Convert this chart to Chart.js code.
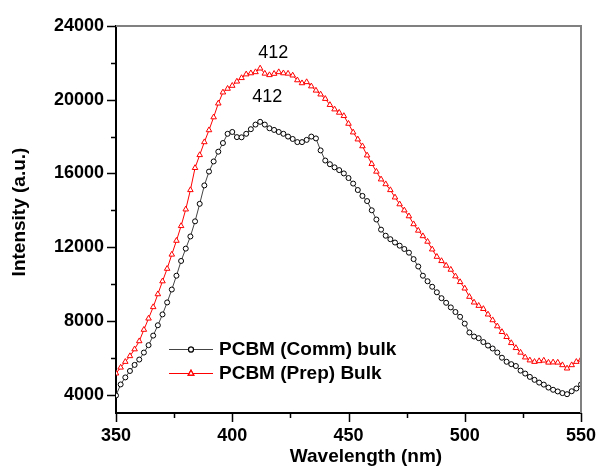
<!DOCTYPE html>
<html>
<head>
<meta charset="utf-8">
<script src="https://cdn.jsdelivr.net/npm/chart.js@4.4.1/dist/chart.umd.min.js"></script>
<style>
  body { margin: 0; background: #fff; }
  #wrap { width: 600px; height: 466px; }
</style>
</head>
<body>
<div id="wrap"><canvas id="plChart" width="600" height="466"></canvas></div>
<script>
// wavelength (nm)
const wavelengths = [
  350, 352, 354, 356, 358, 360, 362, 364, 366, 368,
  370, 372, 374, 376, 378, 380, 382, 384, 386, 388,
  390, 392, 394, 396, 398, 400, 402, 404, 406, 408,
  410, 412, 414, 416, 418, 420, 422, 424, 426, 428,
  430, 432, 434, 436, 438, 440, 442, 444, 446, 448,
  450, 452, 454, 456, 458, 460, 462, 464, 466, 468,
  470, 472, 474, 476, 478, 480, 482, 484, 486, 488,
  490, 492, 494, 496, 498, 500, 502, 504, 506, 508,
  510, 512, 514, 516, 518, 520, 522, 524, 526, 528,
  530, 532, 534, 536, 538, 540, 542, 544, 546, 548,
  550
];

// PCBM (Comm) bulk
const commBulk = [
  3950, 4550, 4930, 5280, 5610, 5900, 6280, 6680, 7200, 7760,
  8350, 9000, 9700, 10450, 11250, 11920, 12580, 13400, 14350, 15350,
  16100, 16650, 17180, 17650, 18150, 18250, 17970, 17960, 18150, 18400,
  18650, 18800, 18650, 18450, 18360, 18250, 18150, 18000, 17870, 17700,
  17700, 17820, 18000, 17900, 17250, 16700, 16500, 16330, 16180, 16000,
  15750, 15450, 15100, 14780, 14500, 14000, 13500, 12950, 12620, 12430,
  12250, 12080, 11900, 11700, 11350, 10950, 10450, 10150, 9850, 9550,
  9230, 8980, 8730, 8480, 8220, 7850, 7370, 7150, 7060, 6850,
  6660, 6500, 6280, 6000, 5780, 5650, 5550, 5300, 5140, 4960,
  4800, 4650, 4540, 4380, 4260, 4170, 4080, 4020, 4180, 4330,
  4550
];

// PCBM (Prep) Bulk
const prepBulk = [
  5150, 5470, 5780, 6090, 6460, 6900, 7520, 8130, 8750, 9450,
  10150, 10830, 11600, 12350, 13150, 14050, 15100, 16300, 17000, 17700,
  18350, 19050, 19800, 20400, 20600, 20760, 20990, 21180, 21380, 21440,
  21500, 21700, 21420, 21340, 21410, 21500, 21440, 21420, 21320, 21060,
  20900, 20960, 20730, 20500, 20290, 20050, 19720, 19480, 19300, 19120,
  18700, 18230, 17850, 17480, 16980, 16520, 16100, 15680, 15420, 15100,
  14700, 14330, 14000, 13680, 13250, 12900, 12600, 12300, 11880, 11480,
  11250, 11000, 10780, 10420, 10110, 9760, 9310, 9000, 8820, 8650,
  8350, 8040, 7710, 7400, 7130, 6800, 6530, 6280, 6020, 5860,
  5780, 5820, 5850, 5740, 5750, 5740, 5600, 5420, 5600, 5780,
  5900
];

const seriesNames = ['PCBM (Comm) bulk', 'PCBM (Prep) Bulk'];
const peakLabels = ['412', '412'];
const peakWavelength = 412;

const xTicks = [350, 375, 400, 425, 450, 475, 500, 525, 550];
const xLabelTicks = [350, 400, 450, 500, 550];
const yTicks = [4000, 6000, 8000, 10000, 12000, 14000, 16000, 18000, 20000, 22000, 24000];
const yLabelTicks = [4000, 8000, 12000, 16000, 20000, 24000];

const FONT = '"Liberation Sans", Arial, Helvetica, sans-serif';

const decor = {
  id: 'decor',
  afterDraw(chart) {
    const { ctx, chartArea: a, scales: { x, y } } = chart;
    ctx.save();

    // grey top/right frame
    ctx.strokeStyle = '#808080';
    ctx.lineWidth = 2;
    ctx.beginPath();
    ctx.moveTo(a.left, a.top);
    ctx.lineTo(a.right, a.top);
    ctx.lineTo(a.right, a.bottom);
    ctx.stroke();

    // tick marks (major + minor)
    ctx.strokeStyle = '#000';
    ctx.lineWidth = 1.5;
    ctx.beginPath();
    xTicks.forEach(v => {
      const px = Math.round(x.getPixelForValue(v)) + 0.5;
      const len = xLabelTicks.includes(v) ? 9 : 5;
      ctx.moveTo(px, a.bottom);
      ctx.lineTo(px, a.bottom + len);
    });
    yTicks.forEach(v => {
      const py = Math.round(y.getPixelForValue(v)) + 0.5;
      const len = yLabelTicks.includes(v) ? 9 : 5;
      ctx.moveTo(a.left, py);
      ctx.lineTo(a.left - len, py);
    });
    ctx.stroke();

    // peak labels
    ctx.fillStyle = '#000';
    ctx.font = '18px ' + FONT;
    ctx.textAlign = 'center';
    ctx.textBaseline = 'middle';
    const i = wavelengths.indexOf(peakWavelength);
    const px = x.getPixelForValue(peakWavelength);
    ctx.fillText(peakLabels[1], px + 13, y.getPixelForValue(prepBulk[i]) - 15);
    ctx.fillText(peakLabels[0], px + 7, y.getPixelForValue(commBulk[i]) - 25);

    // axis titles
    ctx.font = 'bold 19px ' + FONT;
    ctx.fillText('Wavelength (nm)', 366, 457);
    ctx.save();
    ctx.translate(20, 212);
    ctx.rotate(-Math.PI / 2);
    ctx.fillText('Intensity (a.u.)', 0, 0);
    ctx.restore();

    // legend
    const rows = [
      { ds: chart.data.datasets[0], y: 349 },
      { ds: chart.data.datasets[1], y: 373 }
    ];
    rows.forEach(r => {
      ctx.strokeStyle = r.ds.borderColor;
      ctx.lineWidth = 1.2;
      ctx.beginPath();
      ctx.moveTo(169, r.y + 0.5);
      ctx.lineTo(213, r.y + 0.5);
      ctx.stroke();
      Chart.helpers.drawPoint(ctx, {
        pointStyle: r.ds.pointStyle,
        radius: r.ds.pointRadius,
        borderWidth: 1
      }, 191, r.y + 0.5);
      ctx.fillStyle = r.ds.pointBackgroundColor;
      ctx.strokeStyle = r.ds.pointBorderColor;
      ctx.fill();
      ctx.stroke();
      ctx.fillStyle = '#000';
      ctx.textAlign = 'left';
      ctx.font = 'bold 19px ' + FONT;
      ctx.fillText(r.ds.label, 219, r.y + 1);
    });

    ctx.restore();
  }
};

const chart = new Chart(document.getElementById('plChart').getContext('2d'), {
  type: 'line',
  data: {
    labels: wavelengths,
    datasets: [
      {
        label: seriesNames[0],
        data: wavelengths.map((w, i) => ({ x: w, y: commBulk[i] })),
        borderColor: '#444',
        borderWidth: 1,
        pointStyle: 'circle',
        pointRadius: 2.5,
        pointBorderWidth: 1,
        pointBorderColor: '#000',
        pointBackgroundColor: '#fff',
        tension: 0
      },
      {
        label: seriesNames[1],
        data: wavelengths.map((w, i) => ({ x: w, y: prepBulk[i] })),
        borderColor: '#ff0000',
        borderWidth: 1,
        pointStyle: 'triangle',
        pointRadius: 3.2,
        pointBorderWidth: 1,
        pointBorderColor: '#ff0000',
        pointBackgroundColor: '#fff',
        tension: 0
      }
    ]
  },
  options: {
    responsive: false,
    animation: false,
    layout: { padding: { top: 26, right: 19, left: 0, bottom: 0 } },
    plugins: {
      legend: { display: false },
      tooltip: { enabled: false }
    },
    scales: {
      x: {
        type: 'linear',
        min: 350,
        max: 550,
        afterBuildTicks: s => { s.ticks = xLabelTicks.map(v => ({ value: v })); },
        afterFit: s => { s.height = 53; },
        border: { display: true, color: '#000', width: 2 },
        grid: { display: true, drawOnChartArea: false, drawTicks: true, tickLength: 9, color: 'rgba(0,0,0,0)' },
        ticks: {
          padding: 3,
          maxRotation: 0,
          color: '#000',
          callback: v => String(v),
          font: { family: FONT, size: 18, weight: 'bold' }
        }
      },
      y: {
        min: 3000,
        max: 24000,
        afterBuildTicks: s => { s.ticks = yLabelTicks.map(v => ({ value: v })); },
        afterFit: s => { s.width = 116; },
        border: { display: true, color: '#000', width: 2 },
        grid: { display: true, drawOnChartArea: false, drawTicks: true, tickLength: 9, color: 'rgba(0,0,0,0)' },
        ticks: {
          padding: 3,
          color: '#000',
          callback: v => String(v),
          font: { family: FONT, size: 18, weight: 'bold' }
        }
      }
    }
  },
  plugins: [decor]
});
</script>
</body>
</html>
